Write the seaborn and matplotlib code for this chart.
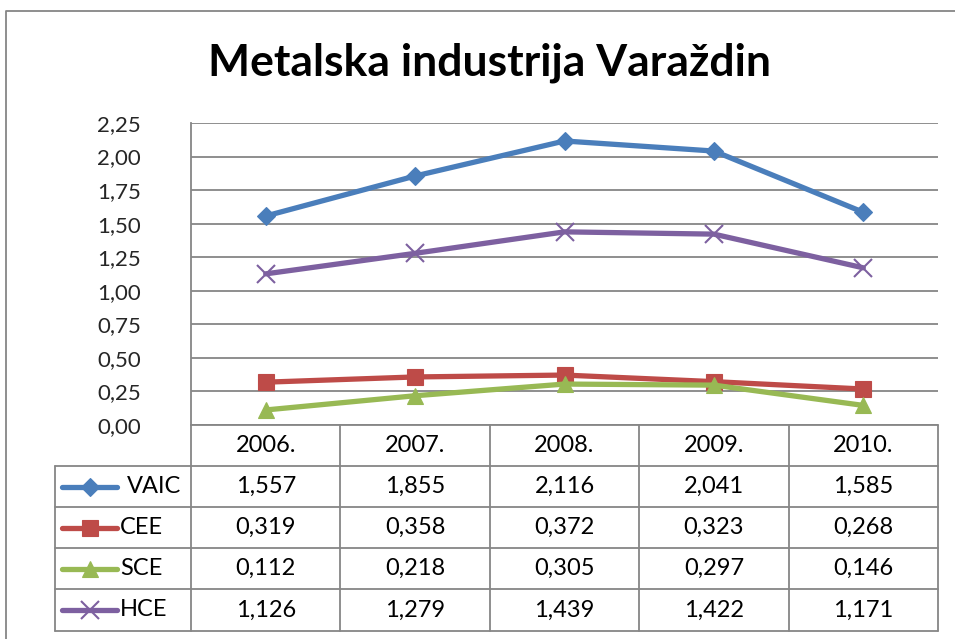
import matplotlib
matplotlib.use("Agg")
import matplotlib.pyplot as plt
import seaborn as sns
import pandas as pd
from matplotlib.lines import Line2D

years = ["2006.", "2007.", "2008.", "2009.", "2010."]
series_names = ["VAIC", "CEE", "SCE", "HCE"]
vaic = [1.557, 1.855, 2.116, 2.041, 1.585]
cee = [0.319, 0.358, 0.372, 0.323, 0.268]
sce = [0.112, 0.218, 0.305, 0.297, 0.146]
hce = [1.126, 1.279, 1.439, 1.422, 1.171]
y_ticks = [0.0, 0.25, 0.5, 0.75, 1.0, 1.25, 1.5, 1.75, 2.0, 2.25]

values = {"VAIC": vaic, "CEE": cee, "SCE": sce, "HCE": hce}
colors = {"VAIC": "#4A7EBB", "CEE": "#BE4B48", "SCE": "#98B954", "HCE": "#7D60A0"}
markers = {"VAIC": "D", "CEE": "s", "SCE": "^", "HCE": "x"}
msize = {"VAIC": 9.5, "CEE": 11.5, "SCE": 12, "HCE": 13}

rows = []
for name in series_names:
    for i, v in enumerate(values[name]):
        rows.append({"pos": i, "year": years[i], "series": name, "value": v})
df = pd.DataFrame(rows)

sns.set_theme(style="white")
plt.rcParams["font.family"] = ["Lato", "DejaVu Sans"]

W, H = 955, 639
fig = plt.figure(figsize=(W / 100, H / 100), dpi=100)
fig.patch.set_facecolor("white")

# pixel-space overlay for the frame and the data table
ov = fig.add_axes([0, 0, 1, 1], zorder=0)
ov.set_xlim(0, W)
ov.set_ylim(H, 0)
ov.axis("off")

grid_c = "#868686"
tick_size = 16
cell_size = 17
# outer chart frame
ov.plot([6, 6, W + 5], [H + 5, 11, 11], color=grid_c, lw=1.3)

fig.text(489 / W, 1 - 63 / H, "Metalska industrija Varaždin", ha="center",
         va="center", fontsize=32, fontweight="bold", color="black")

# plot area
x0, x1, yt, yb = 191, 938, 123, 425
ax = fig.add_axes([x0 / W, 1 - yb / H, (x1 - x0) / W, (yb - yt) / H], zorder=2)
ax.set_facecolor("none")
for name in series_names:
    sub = df[df["series"] == name]
    sns.lineplot(data=sub, x="pos", y="value", ax=ax, color=colors[name],
                 lw=3.8, marker=markers[name], markersize=msize[name],
                 markeredgecolor=colors[name],
                 markeredgewidth=1.5 if name == "HCE" else 0.8,
                 legend=False, zorder=3)
ax.set_xlim(-0.5, len(years) - 0.5)
ax.set_ylim(0, 2.25)
ax.set_yticks(y_ticks)
ax.set_yticklabels([f"{t:.2f}".replace(".", ",") for t in y_ticks], fontsize=tick_size)
ax.set_xticks([])
ax.set_xlabel("")
ax.set_ylabel("")
ax.tick_params(axis="y", length=0, pad=36)
for t in y_ticks:
    ax.axhline(t, color=grid_c, lw=1.3, zorder=1)
for s in ["top", "right", "bottom"]:
    ax.spines[s].set_visible(False)
ax.spines["left"].set_color(grid_c)
ax.spines["left"].set_linewidth(1.3)

# data table below the plot area
col_w = (x1 - x0) / len(years)
row_edges = [425, 466, 507, 548, 589, 631]
leg_x = 55
for i in range(len(years) + 1):
    ov.plot([x0 + i * col_w] * 2, [row_edges[0], row_edges[-1]], color=grid_c, lw=1.3)
ov.plot([leg_x, leg_x], [row_edges[1], row_edges[-1]], color=grid_c, lw=1.3)
ov.plot([x0, x1], [row_edges[0]] * 2, color=grid_c, lw=1.3)
for r in row_edges[1:]:
    ov.plot([leg_x, x1], [r, r], color=grid_c, lw=1.3)

for i, yr in enumerate(years):
    ov.text(x0 + (i + 0.5) * col_w, (row_edges[0] + row_edges[1]) / 2, yr,
            ha="center", va="center", fontsize=cell_size, color="black")
for j, name in enumerate(series_names):
    yc = (row_edges[j + 1] + row_edges[j + 2]) / 2
    ov.add_line(Line2D([62, 117], [yc, yc], color=colors[name], lw=3.8,
                       solid_capstyle="round"))
    ov.add_line(Line2D([89.5], [yc], color=colors[name], marker=markers[name],
                       markersize=msize[name], markeredgecolor=colors[name],
                       markeredgewidth=1.5 if name == "HCE" else 0.8, lw=0))
    ov.text(127 if name == "VAIC" else 120, yc, name, ha="left", va="center",
            fontsize=cell_size, color="black")
    for i, v in enumerate(values[name]):
        ov.text(x0 + (i + 0.5) * col_w, yc, f"{v:.3f}".replace(".", ","),
                ha="center", va="center", fontsize=cell_size, color="black")

fig.savefig("out.png", dpi=100, facecolor="white")
